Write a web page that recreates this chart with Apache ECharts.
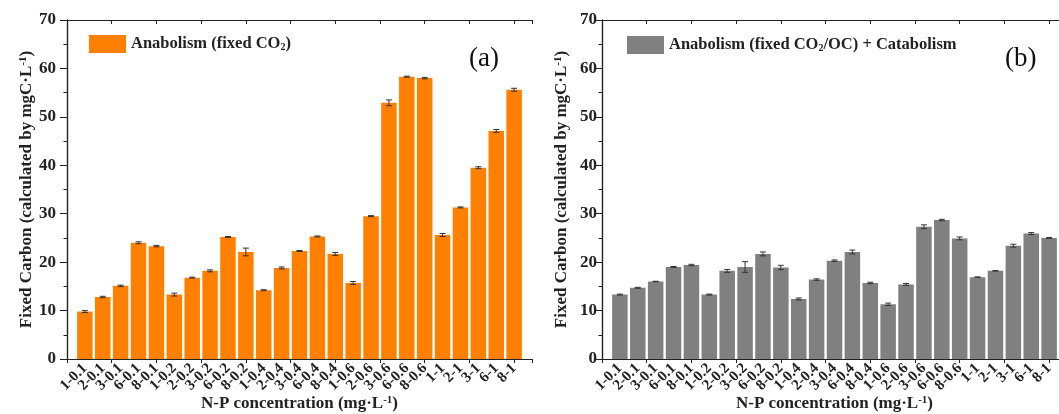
<!DOCTYPE html>
<html>
<head>
<meta charset="utf-8">
<script src="https://cdn.jsdelivr.net/npm/echarts@6/dist/echarts.min.js"></script>
<style>
html, body { margin: 0; padding: 0; background: #fff; }
#main { width: 1059px; height: 414px; }
</style>
</head>
<body>
<div id="main"></div>
<script>
// N-P concentration groups (tick labels)
var categories = ['1-0.1', '2-0.1', '3-0.1', '6-0.1', '8-0.1',
                  '1-0.2', '2-0.2', '3-0.2', '6-0.2', '8-0.2',
                  '1-0.4', '2-0.4', '3-0.4', '6-0.4', '8-0.4',
                  '1-0.6', '2-0.6', '3-0.6', '6-0.6', '8-0.6',
                  '1-1', '2-1', '3-1', '6-1', '8-1'];

// (a) anabolism, fixed CO2
var anabolism = [9.8, 12.8, 15.1, 24.0, 23.3,
                 13.3, 16.8, 18.2, 25.2, 22.1,
                 14.2, 18.8, 22.3, 25.3, 21.7,
                 15.7, 29.5, 52.9, 58.3, 58.0,
                 25.6, 31.3, 39.5, 47.1, 55.6];
var anabolismErr = [0.2, 0.15, 0.15, 0.2, 0.15,
                    0.3, 0.1, 0.2, 0.1, 0.8,
                    0.1, 0.2, 0.1, 0.1, 0.3,
                    0.3, 0.1, 0.6, 0.1, 0.15,
                    0.3, 0.1, 0.2, 0.3, 0.3];

// (b) anabolism (fixed CO2/OC) + catabolism
var total = [13.3, 14.7, 16.0, 19.0, 19.4,
             13.3, 18.2, 19.0, 21.7, 18.9,
             12.4, 16.4, 20.3, 22.1, 15.7,
             11.3, 15.4, 27.3, 28.7, 24.9,
             16.9, 18.2, 23.4, 25.9, 25.0];
var totalErr = [0.1, 0.1, 0.05, 0.1, 0.15,
                0.1, 0.3, 1.1, 0.4, 0.45,
                0.2, 0.15, 0.15, 0.4, 0.15,
                0.25, 0.2, 0.4, 0.15, 0.3,
                0.05, 0.05, 0.3, 0.2, 0.1];

var seriesNames = ['Anabolism (fixed CO2)', 'Anabolism (fixed CO2/OC) + Catabolism'];
var legendRich = ['{t|Anabolism (fixed CO}{s|2}{t|)}', '{t|Anabolism (fixed CO}{s|2}{t|/OC) + Catabolism}'];

var FONT = 'Liberation Serif';
var INK = '#222';

// padded so bars sit on 1..25 of a 0..26 axis
var axisCats = [''].concat(categories).concat([' ']);

function barData(vals) {
    return vals.map(function (v, i) { return [i + 1, v]; });
}
function errData(vals, errs) {
    return vals.map(function (v, i) { return [i + 1, v, errs[i]]; });
}

function errorBar(params, api) {
    var x = api.value(0), v = api.value(1), e = api.value(2);
    var hi = api.coord([x, v + e]);
    var lo = api.coord([x, v - e]);
    var st = { stroke: '#333', lineWidth: 1 };
    return {
        type: 'group',
        children: [
            { type: 'line', shape: { x1: hi[0] - 3, y1: hi[1], x2: hi[0] + 3, y2: hi[1] }, style: st },
            { type: 'line', shape: { x1: hi[0], y1: hi[1], x2: lo[0], y2: lo[1] }, style: st },
            { type: 'line', shape: { x1: lo[0] - 3, y1: lo[1], x2: lo[0] + 3, y2: lo[1] }, style: st }
        ]
    };
}

var grids = [
    { left: 67, top: 20, width: 465, height: 339, show: false, outerBoundsMode: 'none' },
    { left: 602, top: 20, width: 465, height: 339, show: false, outerBoundsMode: 'none' }
];

var xAxes = [], yAxes = [];
var lineSt = { show: true, lineStyle: { color: INK, width: 1.2 } };
var yLabelMargin = [11, 5];
for (var g = 0; g < 2; g++) {
    xAxes.push({
        type: 'category', gridIndex: g, data: axisCats, boundaryGap: false,
        axisLine: lineSt, axisTick: { show: false }, splitLine: { show: false },
        axisLabel: { interval: 0, rotate: 45, margin: 7, color: INK,
                     fontFamily: FONT, fontWeight: 'bold', fontSize: 15 },
        name: '{t|N-P concentration (mg·L}{s|-1}{t|)}', nameLocation: 'middle', nameGap: 36,
        nameMoveOverlap: false,
        nameTextStyle: { rich: {
            t: { fontFamily: FONT, fontWeight: 'bold', fontSize: 17, color: INK },
            s: { fontFamily: FONT, fontWeight: 'bold', fontSize: 11, color: INK, verticalAlign: 'top' }
        } }
    });
    // major ticks every 2.5 along bottom and top frame
    xAxes.push({
        type: 'value', gridIndex: g, position: 'bottom', min: 0, max: 26, interval: 2.5,
        axisLine: { show: false }, axisTick: { show: true, length: 4, lineStyle: { color: INK } },
        axisLabel: { show: false }, splitLine: { show: false }
    });
    xAxes.push({
        type: 'value', gridIndex: g, position: 'top', min: 0, max: 26, interval: 2.5,
        axisLine: lineSt, axisTick: { show: true, inside: true, length: 4, lineStyle: { color: INK } },
        axisLabel: { show: false }, splitLine: { show: false }
    });
    yAxes.push({
        type: 'value', gridIndex: g, position: 'left', min: 0, max: 70, interval: 10,
        axisLine: lineSt, axisTick: { show: true, length: 7, lineStyle: { color: INK } },
        minorTick: { show: true, splitNumber: 2, length: 3.5, lineStyle: { color: INK } },
        splitLine: { show: false },
        axisLabel: { margin: yLabelMargin[g], color: INK, fontFamily: FONT, fontWeight: 'bold', fontSize: 17 },
        name: '{t|Fixed Carbon (calculated by mgC·L}{s|-1}{t|)}', nameLocation: 'middle', nameGap: 32,
        nameMoveOverlap: false,
        nameTextStyle: { rich: {
            t: { fontFamily: FONT, fontWeight: 'bold', fontSize: 17, color: INK },
            s: { fontFamily: FONT, fontWeight: 'bold', fontSize: 11, color: INK, verticalAlign: 'top' }
        } }
    });
    yAxes.push({
        type: 'value', gridIndex: g, position: 'right', min: 0, max: 70, interval: 10,
        axisLine: lineSt, axisTick: { show: true, inside: true, length: 5, lineStyle: { color: INK } },
        minorTick: { show: true, splitNumber: 2, length: 3, lineStyle: { color: INK } },
        axisLabel: { show: false }, splitLine: { show: false }
    });
}

var legendText = {
    rich: {
        t: { fontFamily: FONT, fontWeight: 'bold', fontSize: 16.5, color: INK },
        s: { fontFamily: FONT, fontWeight: 'bold', fontSize: 10, color: INK, verticalAlign: 'bottom' }
    }
};

var myChart = echarts.init(document.getElementById('main'), null, { renderer: 'canvas' });

var option = {
    backgroundColor: '#fff',
    animation: false,
    grid: grids,
    title: [
        { text: '(a)', left: 464, top: 40, textStyle: { fontFamily: FONT, fontWeight: 'normal', fontSize: 27, color: '#111' } },
        { text: '(b)', left: 1000, top: 40, textStyle: { fontFamily: FONT, fontWeight: 'normal', fontSize: 27, color: '#111' } }
    ],
    legend: [
        { data: [seriesNames[0]], left: 89, top: 35, padding: 0, itemWidth: 37, itemHeight: 18, icon: 'rect',
          formatter: function () { return legendRich[0]; }, textStyle: legendText },
        { data: [seriesNames[1]], left: 627, top: 36, padding: 0, itemWidth: 37, itemHeight: 18, icon: 'rect',
          formatter: function () { return legendRich[1]; }, textStyle: legendText }
    ],
    xAxis: xAxes,
    yAxis: yAxes,
    series: [
        { name: seriesNames[0], type: 'bar', xAxisIndex: 0, yAxisIndex: 0, barWidth: 15.5,
          itemStyle: { color: '#FF8000' }, data: barData(anabolism) },
        { type: 'custom', xAxisIndex: 0, yAxisIndex: 0, renderItem: errorBar, z: 5,
          encode: { x: 0, y: 1 }, data: errData(anabolism, anabolismErr) },
        { name: seriesNames[1], type: 'bar', xAxisIndex: 3, yAxisIndex: 2, barWidth: 15.5,
          itemStyle: { color: '#808080' }, data: barData(total) },
        { type: 'custom', xAxisIndex: 3, yAxisIndex: 2, renderItem: errorBar, z: 5,
          encode: { x: 0, y: 1 }, data: errData(total, totalErr) }
    ]
};

myChart.setOption(option);
</script>
</body>
</html>
